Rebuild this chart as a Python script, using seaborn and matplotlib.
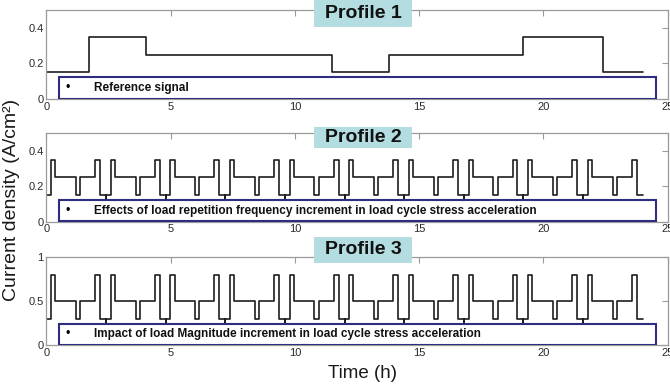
import numpy as np
import pandas as pd
import matplotlib
matplotlib.use("Agg")
import matplotlib.pyplot as plt
from matplotlib.patches import Rectangle
import seaborn as sns

# ---- data ----
ref_times = [0.0, 1.7, 4.0, 11.5, 13.8, 19.2, 22.4, 24.0]
ref_values = [0.15, 0.35, 0.25, 0.15, 0.25, 0.35, 0.15, 0.15]

cycle_edges = [0.0, 0.19, 0.36, 1.19, 1.36, 1.96, 2.16]   # within one 2.4 h cycle
cycle_length = 2.4
n_cycles = 10
p2_levels = [0.15, 0.35, 0.25, 0.15, 0.25, 0.35, 0.15]
p3_levels = [0.3, 0.8, 0.5, 0.3, 0.5, 0.8, 0.3]
end_time = 24.0

titles = ["Profile 1", "Profile 2", "Profile 3"]
legend_texts = [
    "Reference signal",
    "Effects of load repetition frequency increment in load cycle stress acceleration",
    "Impact of load Magnitude increment in load cycle stress acceleration",
]
y_limits = [(0, 0.5), (0, 0.5), (0, 1.0)]
y_ticks = [[0, 0.2, 0.4], [0, 0.2, 0.4], [0, 0.5, 1]]
y_ticklabels = [["0", "0.2", "0.4"], ["0", "0.2", "0.4"], ["0", "0.5", "1"]]
x_ticks = [0, 5, 10, 15, 20, 25]
x_ticklabels = ["0", "5", "10", "15", "20", "25"]


def cyclic_series(levels):
    t, v = [], []
    for k in range(n_cycles):
        base = k * cycle_length
        if k > 0:
            t.append(base)
            v.append(0.0)
        for e, lv in zip(cycle_edges, levels):
            t.append(base + e)
            v.append(lv)
    t.append(end_time)
    v.append(levels[-1])
    return pd.DataFrame({"time": t, "value": v})


frames = [
    pd.DataFrame({"time": ref_times, "value": ref_values}),
    cyclic_series(p2_levels),
    cyclic_series(p3_levels),
]

sns.set_theme(style="white")
plt.rcParams["font.family"] = ["Liberation Sans", "DejaVu Sans"]

W, H = 670, 392
fig = plt.figure(figsize=(W / 100, H / 100), dpi=100)

# axes boxes in pixel coordinates (left, top, right, bottom)
ax_px = [(46.3, 10, 667.6, 99), (46.3, 133, 667.6, 221.7), (46.3, 257, 667.6, 345.3)]
title_px = [(314, 0, 412, 27), (314, 127, 412, 148), (314, 237, 412, 263)]

spine_col = "#9a9a9a"
for i in range(3):
    l, t, r, b = ax_px[i]
    ax = fig.add_axes([l / W, 1 - b / H, (r - l) / W, (b - t) / H])
    sns.lineplot(data=frames[i], x="time", y="value", ax=ax, sort=False,
                 estimator=None, drawstyle="steps-post", color="#1e1e1e",
                 linewidth=1.2, zorder=2)
    ax.set_xlim(0, 25)
    ax.set_ylim(*y_limits[i])
    ax.set_xticks(x_ticks)
    ax.set_xticklabels(x_ticklabels)
    ax.set_yticks(y_ticks[i])
    ax.set_yticklabels(y_ticklabels[i])
    ax.set_xlabel("")
    ax.set_ylabel("")
    for s in ax.spines.values():
        s.set_color(spine_col)
        s.set_linewidth(0.9)
    ax.tick_params(direction="in", top=True, right=True, length=4, width=0.8,
                   color=spine_col, labelsize=8, labelcolor="#2a2a2a", pad=2)
    # legend-like box
    ax.add_patch(Rectangle((0.02, 0.004), 0.962, 0.241, transform=ax.transAxes,
                           facecolor="white", edgecolor="#2e2d80", linewidth=1.5,
                           zorder=3))
    ax.text(0.035, 0.125, "•", transform=ax.transAxes, ha="center", va="center",
            fontsize=9, color="black", zorder=4)
    ax.text(0.0768, 0.125, legend_texts[i], transform=ax.transAxes, ha="left",
            va="center", fontsize=8.5, fontweight="bold", color="#111111", zorder=4)

    x0, y0, x1, y1 = title_px[i]
    fig.add_artist(Rectangle((x0 / W, 1 - y1 / H), (x1 - x0) / W, (y1 - y0) / H,
                             transform=fig.transFigure, facecolor="#b3dde1",
                             edgecolor="none", zorder=5))
    fig.text((x0 + x1) / 2 / W, 1 - (y0 + y1) / 2 / H, titles[i], ha="center",
             va="center", fontsize=14, fontweight="bold", color="#111111", zorder=6)

fig.text(12 / W, 1 - 200 / H, "Current density (A/cm²)", rotation=90,
         ha="center", va="center", fontsize=14, color="#1a1a1a")
fig.text(362 / W, 1 - 373 / H, "Time (h)", ha="center", va="center",
         fontsize=13.5, color="#1a1a1a")

fig.savefig("out.png", dpi=100)
